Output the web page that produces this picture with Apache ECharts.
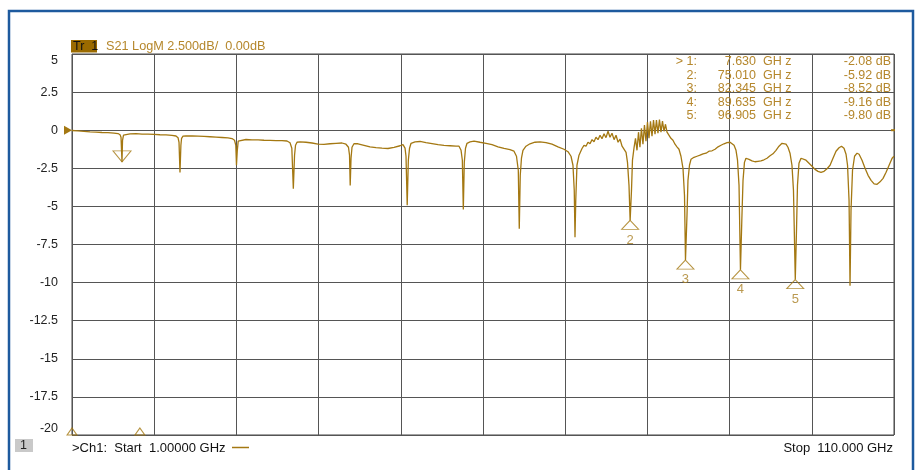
<!DOCTYPE html>
<html>
<head>
<meta charset="utf-8">
<script src="https://cdn.jsdelivr.net/npm/echarts@6/dist/echarts.min.js"></script>
<style>
html,body{margin:0;padding:0;background:#fff;}
#c{width:920px;height:470px;}
</style>
</head>
<body>
<div id="c"></div>
<script>
// ---- data (GHz, dB) ----
const startGHz = 1.0;
const stopGHz = 110.0;
const yTicks = [5, 2.5, 0, -2.5, -5, -7.5, -10, -12.5, -15, -17.5, -20];
const markerNames = ['1', '2', '3', '4', '5'];
const markerGHz = [7.630, 75.010, 82.345, 89.635, 96.905];
const markerDb = [-2.08, -5.92, -8.52, -9.16, -9.80];
const offscaleGHz = [1.0, 10.0];
const offscaleDb = [-20, -20];
const trace = [
 [1.00,-0.02],[1.80,-0.05],[2.59,-0.08],[3.39,-0.11],[4.18,-0.12],[4.98,-0.15],[5.77,-0.16],[6.57,-0.19],
 [7.10,-0.22],[7.37,-0.30],[7.50,-0.46],[7.63,-2.08],[7.70,-0.66],[7.83,-0.33],[8.03,-0.25],[8.69,-0.24],
 [9.49,-0.23],[10.28,-0.26],[11.08,-0.26],[11.87,-0.28],[12.67,-0.30],[13.47,-0.31],[14.26,-0.34],[14.79,-0.38],
 [15.06,-0.49],[15.19,-0.79],[15.32,-2.78],[15.44,-0.99],[15.53,-0.53],[15.72,-0.39],[16.12,-0.37],[16.91,-0.38],
 [17.71,-0.39],[18.50,-0.41],[19.30,-0.43],[20.10,-0.45],[20.89,-0.48],[21.69,-0.51],[22.22,-0.55],[22.55,-0.66],
 [22.72,-0.99],[22.81,-2.30],[22.92,-1.32],[23.04,-0.72],[23.28,-0.61],[24.07,-0.61],[24.87,-0.63],[25.67,-0.64],
 [26.46,-0.66],[27.26,-0.67],[28.05,-0.68],[28.85,-0.68],[29.51,-0.71],[29.91,-0.82],[30.15,-1.18],[30.35,-3.84],
 [30.51,-1.64],[30.64,-0.99],[30.84,-0.79],[31.24,-0.76],[32.03,-0.79],[32.83,-0.84],[33.62,-0.91],[34.42,-0.93],
 [35.21,-0.89],[36.01,-0.86],[36.80,-0.84],[37.33,-0.92],[37.66,-1.12],[37.80,-1.64],[37.89,-3.62],[38.00,-1.84],
 [38.13,-1.12],[38.39,-0.89],[38.93,-0.89],[39.72,-0.99],[40.52,-1.09],[41.31,-1.14],[42.11,-1.18],[42.90,-1.20],
 [43.70,-1.12],[44.50,-1.02],[44.89,-0.95],[45.16,-1.18],[45.29,-1.71],[45.45,-4.93],[45.60,-1.97],[45.76,-1.18],
 [45.96,-0.86],[46.49,-0.76],[47.15,-0.74],[47.94,-0.81],[48.74,-0.88],[49.54,-0.95],[50.33,-1.00],[51.13,-1.02],
 [51.92,-1.05],[52.32,-1.05],[52.59,-1.32],[52.76,-1.97],[52.89,-5.20],[53.02,-2.11],[53.18,-1.18],[53.38,-0.86],
 [53.78,-0.77],[54.31,-0.72],[55.10,-0.79],[55.90,-0.86],[56.70,-0.95],[57.49,-1.09],[58.29,-1.20],[59.08,-1.28],
 [59.61,-1.38],[59.94,-1.71],[60.18,-2.63],[60.31,-6.47],[60.44,-2.96],[60.60,-1.84],[60.80,-1.32],[61.20,-1.05],
 [61.73,-0.89],[62.39,-0.79],[63.06,-0.76],[63.85,-0.82],[64.65,-0.92],[65.44,-1.09],[66.24,-1.25],[66.77,-1.41],
 [67.17,-1.71],[67.43,-2.30],[67.60,-3.95],[67.70,-7.02],[67.80,-4.61],[67.96,-2.30],[68.23,-1.64],[68.63,-1.20],
 [68.89,-0.99],[69.16,-1.05],[69.42,-0.79],[69.69,-0.89],[69.96,-0.62],[70.22,-0.76],[70.48,-0.46],[70.75,-0.62],
 [71.02,-0.33],[71.28,-0.56],[71.55,-0.23],[71.81,-0.49],[72.08,-0.07],[72.34,-0.46],[72.61,-0.20],[72.88,-0.62],
 [73.14,-0.33],[73.41,-0.79],[73.67,-0.59],[73.94,-1.05],[74.20,-0.99],[74.47,-1.45],[74.66,-2.11],[74.86,-3.62],
 [75.01,-5.92],[75.19,-3.95],[75.32,-1.97],[75.52,-1.18],[75.72,-0.53],[75.92,-1.32],[76.12,-0.13],[76.31,-1.12],
 [76.51,0.13],[76.71,-0.92],[76.91,0.33],[77.11,-0.72],[77.31,0.53],[77.51,-0.53],[77.71,0.59],[77.91,-0.39],
 [78.11,0.66],[78.31,-0.26],[78.50,0.66],[78.70,-0.20],[78.90,0.69],[79.10,-0.13],[79.30,0.59],[79.50,-0.07],
 [79.70,0.39],[79.90,-0.13],[80.16,-0.20],[80.42,-0.53],[80.69,-0.66],[80.96,-0.92],[81.22,-1.09],[81.49,-1.25],
 [81.75,-1.71],[82.02,-2.50],[82.22,-4.28],[82.35,-8.52],[82.55,-5.59],[82.68,-3.29],[82.88,-2.30],[83.08,-1.91],
 [83.48,-1.78],[83.88,-1.71],[84.28,-1.64],[84.68,-1.55],[85.08,-1.51],[85.47,-1.38],[85.87,-1.35],[86.27,-1.25],
 [86.67,-1.09],[87.06,-0.99],[87.46,-0.89],[87.86,-0.82],[88.26,-0.79],[88.52,-0.82],[88.79,-0.99],[89.05,-1.32],
 [89.25,-1.97],[89.45,-3.62],[89.64,-9.16],[89.82,-5.92],[89.98,-3.29],[90.17,-2.11],[90.37,-1.84],[90.77,-1.91],
 [91.17,-2.01],[91.56,-2.07],[91.96,-2.04],[92.36,-2.01],[92.76,-1.94],[93.16,-1.84],[93.56,-1.68],[93.95,-1.55],
 [94.35,-1.32],[94.75,-1.05],[95.15,-0.86],[95.41,-0.82],[95.68,-0.92],[95.94,-1.12],[96.21,-1.51],[96.47,-2.30],
 [96.67,-3.95],[96.91,-9.80],[97.07,-6.58],[97.20,-3.62],[97.40,-2.17],[97.67,-1.84],[97.93,-1.81],[98.33,-1.97],
 [98.73,-2.17],[99.13,-2.37],[99.53,-2.57],[99.92,-2.70],[100.32,-2.76],[100.72,-2.70],[101.12,-2.53],[101.52,-2.30],
 [101.91,-1.84],[102.31,-1.38],[102.71,-1.15],[103.04,-1.05],[103.37,-1.18],[103.64,-1.58],[103.84,-2.30],[104.04,-4.61],
 [104.17,-10.20],[104.30,-5.26],[104.50,-2.63],[104.77,-1.71],[105.10,-1.51],[105.37,-1.58],[105.76,-1.97],[106.16,-2.50],
 [106.56,-2.96],[106.96,-3.29],[107.36,-3.52],[107.76,-3.55],[108.15,-3.39],[108.55,-3.16],[108.95,-2.76],[109.35,-2.30],
 [109.75,-1.84],[110.00,-1.71]
];

// ---- styling ----
const GOLD = '#a47812';
const GOLD_TXT = '#b5872c';
const GRID = '#555555';
const FONT = '"Liberation Sans", Arial, sans-serif';

const chart = echarts.init(document.getElementById('c'), null, {renderer: 'canvas'});

const markerData = markerGHz.map((f, i) => ({
  value: [f, markerDb[i]],
  name: markerNames[i],
  symbolRotate: i === 0 ? 180 : 0,
  symbolSize: i === 0 ? [18, 11] : [17, 9],
  symbolOffset: i === 0 ? [0, '-50%'] : [0, '50%'],
  label: {show: i !== 0}
}));

// marker table text
const tableGraphics = [];
const rowY0 = 62, rowStep = 13.5;
markerGHz.forEach((f, i) => {
  const y = rowY0 + i * rowStep;
  const common = {fill: GOLD_TXT, font: '12.5px ' + FONT, textVerticalAlign: 'middle'};
  tableGraphics.push({type: 'text', x: 697, y: y, z: 100,
    style: Object.assign({text: (i === 0 ? '> ' : '') + markerNames[i] + ':', textAlign: 'right'}, common)});
  tableGraphics.push({type: 'text', x: 756, y: y, z: 100,
    style: Object.assign({text: f.toFixed(3), textAlign: 'right'}, common)});
  tableGraphics.push({type: 'text', x: 763, y: y, z: 100,
    style: Object.assign({text: 'GH z', textAlign: 'left'}, common)});
  tableGraphics.push({type: 'text', x: 891, y: y, z: 100,
    style: Object.assign({text: markerDb[i].toFixed(2) + ' dB', textAlign: 'right'}, common)});
});

const option = {
  animation: false,
  backgroundColor: '#ffffff',
  grid: {left: 72, right: 26, top: 54, bottom: 35, show: true, borderColor: '#444', borderWidth: 1},
  xAxis: [
    {type: 'value', min: startGHz, max: stopGHz, show: true,
     axisLine: {show: false}, axisTick: {show: false}, axisLabel: {show: false}, splitLine: {show: false}},
    {type: 'value', min: 0, max: 10, interval: 1, show: true,
     axisLine: {show: false}, axisTick: {show: false}, axisLabel: {show: false},
     splitLine: {show: true, lineStyle: {color: GRID, width: 1}}}
  ],
  yAxis: {
    type: 'value', min: yTicks[yTicks.length - 1], max: yTicks[0], interval: 2.5,
    axisLine: {show: false}, axisTick: {show: false},
    axisLabel: {color: '#222', fontSize: 12.5, fontFamily: FONT, margin: 14,
      verticalAlignMaxLabel: 'top', verticalAlignMinLabel: 'bottom',
      formatter: v => String(v)},
    splitLine: {show: true, lineStyle: {color: GRID, width: 1}}
  },
  series: [
    {
      type: 'line', xAxisIndex: 0, data: trace, showSymbol: false, symbol: 'none',
      lineStyle: {color: GOLD, width: 1.3}, z: 3, silent: true,
      markPoint: {
        silent: true,
        data: [{coord: [startGHz, 0], symbol: 'triangle', symbolRotate: -90, symbolSize: [9, 8],
          symbolOffset: [-4, 0], itemStyle: {color: GOLD}, label: {show: false}},
          {coord: [stopGHz, 0], symbol: 'rect', symbolSize: [4, 2], symbolOffset: [-1, 0],
          itemStyle: {color: GOLD}, label: {show: false}}]
      }
    },
    {
      type: 'scatter', xAxisIndex: 0, data: markerData, symbol: 'triangle', z: 5, silent: true,
      itemStyle: {color: 'rgba(255,255,255,0)', borderColor: GOLD, borderWidth: 1},
      label: {show: true, position: 'bottom', distance: 4, formatter: p => p.name,
        color: '#a98024', fontSize: 13, fontFamily: FONT}
    },
    {
      type: 'scatter', xAxisIndex: 0, data: offscaleGHz.map((f, i) => [f, offscaleDb[i]]),
      symbol: 'triangle', symbolSize: [10, 7], symbolOffset: [0, '-50%'], z: 5, silent: true,
      itemStyle: {color: 'rgba(255,255,255,0)', borderColor: GOLD, borderWidth: 1}
    }
  ],
  graphic: [
    {type: 'rect', shape: {x: 9, y: 11, width: 904, height: 480}, z: 0,
     style: {fill: 'none', stroke: '#1d5a9e', lineWidth: 2.5}},
    {type: 'rect', shape: {x: 71, y: 40, width: 26, height: 12.5}, z: 100, style: {fill: '#9a6a00'}},
    {type: 'text', x: 73, y: 46.5, z: 101,
     style: {text: 'Tr  1', fill: '#111', font: '12.5px ' + FONT, textVerticalAlign: 'middle'}},
    {type: 'text', x: 106, y: 46.5, z: 101,
     style: {text: 'S21 LogM 2.500dB/  0.00dB', fill: GOLD_TXT, font: '12.7px ' + FONT, textVerticalAlign: 'middle'}},
    {type: 'rect', shape: {x: 15, y: 439, width: 18, height: 13}, z: 100, style: {fill: '#c9c9c9'}},
    {type: 'text', x: 20, y: 446, z: 101,
     style: {text: '1', fill: '#222', font: '12.5px ' + FONT, textVerticalAlign: 'middle'}},
    {type: 'text', x: 72, y: 448, z: 101,
     style: {text: '>Ch1:  Start  ' + startGHz.toFixed(5) + ' GHz', fill: '#111', font: '13px ' + FONT, textVerticalAlign: 'middle'}},
    {type: 'line', shape: {x1: 232, y1: 447.5, x2: 249, y2: 447.5}, z: 101, style: {stroke: GOLD, lineWidth: 1.5}},
    {type: 'text', x: 893, y: 448, z: 101,
     style: {text: 'Stop  ' + stopGHz.toFixed(3) + ' GHz', fill: '#111', font: '13px ' + FONT, textVerticalAlign: 'middle', textAlign: 'right'}}
  ].concat(tableGraphics)
};
chart.setOption(option);
</script>
</body>
</html>
